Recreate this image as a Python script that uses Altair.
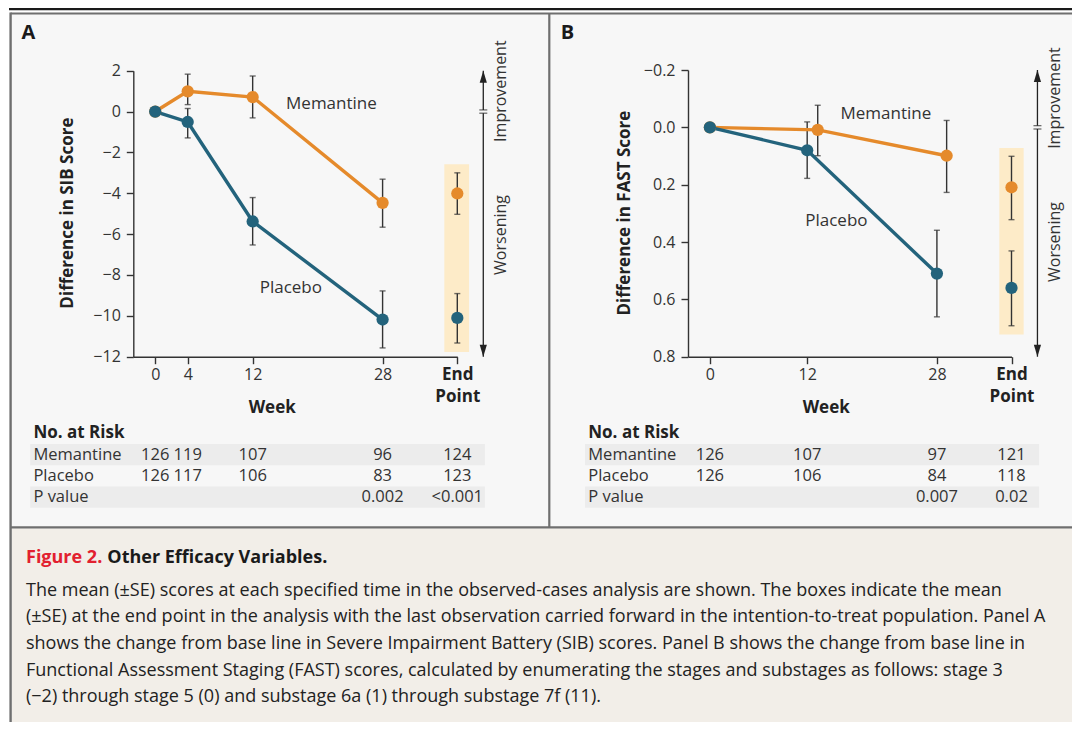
import altair as alt
import pandas as pd

FONT = "Open Sans"
ORANGE = "#E58A2B"
TEAL = "#23637C"
INK = "#333333"
BOX = "#FDEBC8"
PANEL_BG = "#F7F7F7"
STRIPE = "#ECECEC"
CAPTION_BG = "#F2EEE8"
FRAME = "#6F6F6F"
RED = "#E2202F"

SERIES = ["Memantine", "Placebo"]
END = 37.2  # position of the "End Point" column on the week axis

# ---------------- Panel A: SIB score ----------------
A_MEM_WEEK = [0, 4, 12, 28]
A_MEM_MEAN = [0.0, 0.99, 0.71, -4.47]
A_PLA_WEEK = [0, 4, 12, 28]
A_PLA_MEAN = [0.0, -0.51, -5.38, -10.18]
A_ERR_WEEK = [4, 12, 28]
A_MEM_LO = [0.34, -0.31, -5.66]
A_MEM_HI = [1.83, 1.74, -3.31]
A_PLA_LO = [-1.29, -6.53, -11.57]
A_PLA_HI = [0.15, -4.21, -8.78]
A_END_MEAN = [-4.01, -10.10]
A_END_LO = [-5.03, -11.33]
A_END_HI = [-3.00, -8.91]
A_BOX_Y = [-2.58, -11.77]
A_TICKS_Y = [-12, -10, -8, -6, -4, -2, 0, 2]
A_TICKS_X = [0, 4, 12, 28, END]
A_RISK_WEEK = [0, 4, 12, 28, END]
A_RISK_MEM = ["126", "119", "107", "96", "124"]
A_RISK_PLA = ["126", "117", "106", "83", "123"]
A_P_WEEK = [28, END]
A_P = ["0.002", "<0.001"]

# ---------------- Panel B: FAST score ----------------
B_MEM_WEEK = [0, 13.3, 29.2]   # memantine drawn slightly right of the week
B_MEM_MEAN = [0.0, 0.009, 0.099]
B_PLA_WEEK = [0, 12, 28]
B_PLA_MEAN = [0.0, 0.080, 0.510]
B_MEM_ERR_WEEK = [13.3, 29.2]
B_PLA_ERR_WEEK = [12, 28]
B_MEM_LO = [-0.077, -0.024]
B_MEM_HI = [0.099, 0.227]
B_PLA_LO = [-0.019, 0.359]
B_PLA_HI = [0.178, 0.661]
B_END_MEAN = [0.209, 0.560]
B_END_LO = [0.101, 0.431]
B_END_HI = [0.322, 0.692]
B_BOX_Y = [0.072, 0.723]
B_TICKS_Y = [-0.2, 0.0, 0.2, 0.4, 0.6, 0.8]
B_TICKS_X = [0, 12, 28, END]
B_RISK_WEEK = [0, 12, 28, END]
B_RISK_MEM = ["126", "107", "97", "121"]
B_RISK_PLA = ["126", "106", "84", "118"]
B_P_WEEK = [28, END]
B_P = ["0.007", "0.02"]

CAPTION_LINES = [
    "The mean (\u00b1SE) scores at each specified time in the observed-cases analysis are shown. The boxes indicate the mean",
    "(\u00b1SE) at the end point in the analysis with the last observation carried forward in the intention-to-treat population. Panel A",
    "shows the change from base line in Severe Impairment Battery (SIB) scores. Panel B shows the change from base line in",
    "Functional Assessment Staging (FAST) scores, calculated by enumerating the stages and substages as follows: stage 3",
    "(\u22122) through stage 5 (0) and substage 6a (1) through substage 7f (11).",
]


def S(domain, rng):
    return alt.Scale(domain=domain, range=rng, nice=False, zero=False)


COLOR = alt.Color("series:N", scale=alt.Scale(domain=SERIES, range=[ORANGE, TEAL]), legend=None)

AXIS_COMMON = dict(
    domainColor=INK, domainWidth=1.4, tickColor=INK, tickWidth=1.4, tickSize=7,
    titleColor="#222222",
    titleFontSize=17, titleFontWeight="bold", grid=False, labelOverlap=False,
    labelFlush=False, titleAlign="center", titleBaseline="middle", zindex=1,
)


def panel(P):
    xs = S([-2.7, END], P["xrange"])
    ys = S(P["ydom"], P["yrange"])
    ts = S([0, 3], [425.3, 489.2])

    def X(f="x"):
        return alt.X(f, type="quantitative", scale=xs, axis=None)

    def Y(f="y", scale=ys):
        return alt.Y(f, type="quantitative", scale=scale, axis=None)

    layers = []

    # highlighted end-point box
    box = pd.DataFrame({"x": [P["box_x"][0]], "x2": [P["box_x"][1]],
                        "y": [P["box_y"][0]], "y2": [P["box_y"][1]]})
    layers.append(alt.Chart(box).mark_rect(color=BOX).encode(
        x=X(), x2="x2", y=Y(), y2="y2"))

    # error bars
    err = pd.DataFrame({
        "x": P["mem_err_week"] + [END] + P["pla_err_week"] + [END],
        "lo": P["mem_lo"] + [P["end_lo"][0]] + P["pla_lo"] + [P["end_lo"][1]],
        "hi": P["mem_hi"] + [P["end_hi"][0]] + P["pla_hi"] + [P["end_hi"][1]],
    })
    layers.append(alt.Chart(err).mark_rule(color=INK, strokeWidth=1.4).encode(
        x=X(), y=Y("lo"), y2="hi"))
    layers.append(alt.Chart(err).mark_tick(color=INK, orient="horizontal", size=6, thickness=1.4).encode(
        x=X(), y=Y("lo")))
    layers.append(alt.Chart(err).mark_tick(color=INK, orient="horizontal", size=6, thickness=1.4).encode(
        x=X(), y=Y("hi")))

    # lines (carry the axes)
    lines = pd.DataFrame({
        "x": P["mem_week"] + P["pla_week"],
        "y": P["mem_mean"] + P["pla_mean"],
        "series": ["Memantine"] * len(P["mem_week"]) + ["Placebo"] * len(P["pla_week"]),
    })
    xaxis = alt.Axis(
        orient="bottom", offset=-365.3, values=P["xticks"], title="Week",
        titleX=P["xtitle_x"], titleY=51, labelPadding=3,
        labelExpr="datum.value > 30 ? ['End', 'Point'] : datum.label",
        labelFontWeight={"condition": {"test": "datum.value > 30", "value": "bold"}, "value": "normal"},
        labelFontSize={"condition": {"test": "datum.value > 30", "value": 17}, "value": 16},
        labelColor={"condition": {"test": "datum.value > 30", "value": "#222222"}, "value": INK},
        labelLineHeight=22, **AXIS_COMMON)
    yaxis = alt.Axis(
        orient="left", offset=P["yoffset"], values=P["yticks"], format=P["yformat"],
        title=P["ytitle"], titleX=P["ytitle_x"], titleY=204.6, titleAngle=270,
        labelFontSize=16, labelColor=INK, labelPadding=6, **AXIS_COMMON)
    layers.append(alt.Chart(lines).mark_line(strokeWidth=3.4).encode(
        x=alt.X("x:Q", scale=xs, axis=xaxis),
        y=alt.Y("y:Q", scale=ys, axis=yaxis),
        color=COLOR, detail="series:N"))

    # points
    pts = pd.DataFrame({
        "x": P["mem_week"] + [END] + P["pla_week"] + [END],
        "y": P["mem_mean"] + [P["end_mean"][0]] + P["pla_mean"] + [P["end_mean"][1]],
        "series": ["Memantine"] * (len(P["mem_week"]) + 1) + ["Placebo"] * (len(P["pla_week"]) + 1),
    })
    pts["order"] = range(len(pts))
    layers.append(alt.Chart(pts).mark_circle(size=150, opacity=1).encode(
        x=X(), y=Y(), color=COLOR, order="order:Q"))

    # series labels
    lab = pd.DataFrame({"x": P["lab_x"], "y": P["lab_y"], "t": SERIES})
    layers.append(alt.Chart(lab).mark_text(fontSize=17, color=INK, align="center", baseline="middle").encode(
        x=X(), y=Y(), text="t:N"))

    # improvement / worsening arrow
    ax = P["arrow_x"]
    seg = pd.DataFrame({"x": [ax, ax], "y": [P["arrow_y"][0], -P["brk"] * P["sgn"]],
                        "y2": [P["brk"] * P["sgn"], P["arrow_y"][1]]})
    layers.append(alt.Chart(seg).mark_rule(color="#222222", strokeWidth=1.3).encode(
        x=X(), y=Y(), y2="y2"))
    brk = pd.DataFrame({"x": [ax, ax], "y": [P["brk"], -P["brk"]]})
    layers.append(alt.Chart(brk).mark_tick(color="#222222", orient="horizontal", size=8, thickness=1.2).encode(
        x=X(), y=Y()))
    top = pd.DataFrame({"x": [ax], "y": [P["arrow_y"][0]]})
    bot = pd.DataFrame({"x": [ax], "y": [P["arrow_y"][1]]})
    layers.append(alt.Chart(top).mark_point(shape="M0,0L0.6,2L-0.6,2Z", size=144, filled=True,
                                            color="#222222", opacity=1).encode(x=X(), y=Y()))
    layers.append(alt.Chart(bot).mark_point(shape="M0,0L0.6,-2L-0.6,-2Z", size=144, filled=True,
                                            color="#222222", opacity=1).encode(x=X(), y=Y()))
    dirs = pd.DataFrame({"x": [42.6, 42.6], "y": P["dir_y"], "t": ["Improvement", "Worsening"]})
    layers.append(alt.Chart(dirs).mark_text(fontSize=16, color=INK, angle=270, align="center",
                                            baseline="middle").encode(x=X(), y=Y(), text="t:N"))

    # number-at-risk table
    bands = pd.DataFrame({"x": [-15.4, -15.4], "x2": [40.6, 40.6], "y": [0.5, 2.5], "y2": [1.5, 3.5]})
    layers.append(alt.Chart(bands).mark_rect(color=STRIPE).encode(
        x=X(), x2="x2", y=Y("y", ts), y2="y2"))
    heads = pd.DataFrame({"x": [-15] * 4, "y": [0, 1, 2, 3],
                          "t": ["No. at Risk", "Memantine", "Placebo", "P value"],
                          "w": ["bold", "normal", "normal", "normal"]})
    layers.append(alt.Chart(heads[heads.w == "bold"]).mark_text(
        fontSize=17, fontWeight="bold", color="#222222", align="left", baseline="middle").encode(
        x=X(), y=Y("y", ts), text="t:N"))
    layers.append(alt.Chart(heads[heads.w == "normal"]).mark_text(
        fontSize=16.5, color=INK, align="left", baseline="middle").encode(
        x=X(), y=Y("y", ts), text="t:N"))
    cells = pd.DataFrame({
        "x": P["risk_week"] + P["risk_week"] + P["p_week"],
        "y": [1] * len(P["risk_week"]) + [2] * len(P["risk_week"]) + [3] * len(P["p_week"]),
        "t": P["risk_mem"] + P["risk_pla"] + P["p"],
    })
    layers.append(alt.Chart(cells).mark_text(fontSize=16.5, color=INK, align="center", baseline="middle").encode(
        x=X(), y=Y("y", ts), text="t:N"))
    return layers


PA = dict(
    xrange=[125.3, 449.3], ydom=[-12, 2], yrange=[348.7, 62.7], yoffset=-125.3,
    yticks=A_TICKS_Y, yformat="d", ytitle="Difference in SIB Score", ytitle_x=-66,
    xticks=A_TICKS_X, xtitle_x=263.7,
    box_x=[35.6, 38.65], box_y=A_BOX_Y,
    mem_week=A_MEM_WEEK, mem_mean=A_MEM_MEAN, pla_week=A_PLA_WEEK, pla_mean=A_PLA_MEAN,
    mem_err_week=A_ERR_WEEK, pla_err_week=A_ERR_WEEK,
    mem_lo=A_MEM_LO, mem_hi=A_MEM_HI, pla_lo=A_PLA_LO, pla_hi=A_PLA_HI,
    end_mean=A_END_MEAN, end_lo=A_END_LO, end_hi=A_END_HI,
    lab_x=[21.7, 16.7], lab_y=[0.39, -8.66],
    arrow_x=40.4, arrow_y=[2, -12], brk=0.08, sgn=1, dir_y=[1.0, -6.04],
    risk_week=A_RISK_WEEK, risk_mem=A_RISK_MEM, risk_pla=A_RISK_PLA, p_week=A_P_WEEK, p=A_P,
)
PB = dict(
    xrange=[680, 1003.5], ydom=[-0.2, 0.8], yrange=[62, 348.7], yoffset=-680,
    yticks=B_TICKS_Y, yformat=".1f", ytitle="Difference in FAST Score", ytitle_x=-63.5,
    xticks=B_TICKS_X, xtitle_x=817.7,
    box_x=[35.7, 38.7], box_y=B_BOX_Y,
    mem_week=B_MEM_WEEK, mem_mean=B_MEM_MEAN, pla_week=B_PLA_WEEK, pla_mean=B_PLA_MEAN,
    mem_err_week=B_MEM_ERR_WEEK, pla_err_week=B_PLA_ERR_WEEK,
    mem_lo=B_MEM_LO, mem_hi=B_MEM_HI, pla_lo=B_PLA_LO, pla_hi=B_PLA_HI,
    end_mean=B_END_MEAN, end_lo=B_END_LO, end_hi=B_END_HI,
    lab_x=[21.7, 15.6], lab_y=[-0.048, 0.328],
    arrow_x=40.4, arrow_y=[-0.2, 0.8], brk=0.0058, sgn=-1, dir_y=[-0.102, 0.40],
    risk_week=B_RISK_WEEK, risk_mem=B_RISK_MEM, risk_pla=B_RISK_PLA, p_week=B_P_WEEK, p=B_P,
)

one = pd.DataFrame({"k": [0]})

# figure frame and backgrounds (layout decoration)
deco = [
    alt.Chart(one).mark_rect(color=PANEL_BG).encode(
        x=alt.value(3.7), x2=alt.value(1064), y=alt.value(5.5), y2=alt.value(519.3)),
    alt.Chart(one).mark_rect(color=CAPTION_BG).encode(
        x=alt.value(3.7), x2=alt.value(1064), y=alt.value(520.3), y2=alt.value(714)),
    alt.Chart(one).mark_rule(color="#1a1a1a", strokeWidth=2.2).encode(
        x=alt.value(1), x2=alt.value(1064), y=alt.value(1.2)),
    alt.Chart(one).mark_rule(color=FRAME, strokeWidth=2.2).encode(
        x=alt.value(2.6), x2=alt.value(1064), y=alt.value(5.5)),
    alt.Chart(one).mark_rule(color=FRAME, strokeWidth=2.2).encode(
        x=alt.value(2.6), x2=alt.value(1064), y=alt.value(519.3)),
    alt.Chart(one).mark_rule(color=FRAME, strokeWidth=2.4).encode(
        x=alt.value(2.6), y=alt.value(4.4), y2=alt.value(714)),
    alt.Chart(one).mark_rule(color=FRAME, strokeWidth=2.2).encode(
        x=alt.value(541.3), y=alt.value(5.5), y2=alt.value(519.3)),
    alt.Chart(one).mark_text(text="A", fontSize=20, fontWeight="bold", color="#1a1a1a",
                             align="center", baseline="middle").encode(
        x=alt.value(20.3), y=alt.value(25.3)),
    alt.Chart(one).mark_text(text="B", fontSize=20, fontWeight="bold", color="#1a1a1a",
                             align="center", baseline="middle").encode(
        x=alt.value(559.5), y=alt.value(25.3)),
]

caption = [
    alt.Chart(one).mark_text(text="Figure 2.", fontSize=18, fontWeight="bold", color=RED,
                             align="left", baseline="middle").encode(
        x=alt.value(18), y=alt.value(550)),
    alt.Chart(one).mark_text(text="Other Efficacy Variables.", fontSize=18, fontWeight="bold",
                             color="#1a1a1a", align="left", baseline="middle").encode(
        x=alt.value(99.3), y=alt.value(550)),
    alt.Chart(one).mark_text(text=CAPTION_LINES, fontSize=18, lineHeight=26.67, color="#222222",
                             align="left", baseline="middle").encode(
        x=alt.value(18), y=alt.value(582.7)),
]

chart = alt.layer(*deco, *panel(PA), *panel(PB), *caption).resolve_scale(
    x="independent", y="independent", color="independent"
).properties(
    width=1064, height=714, padding=0,
    autosize=alt.AutoSizeParams(type="none"), background="white",
).configure(font=FONT).configure_view(stroke=None)

chart.save("out.html", embed_options={"renderer": "svg", "actions": False})
